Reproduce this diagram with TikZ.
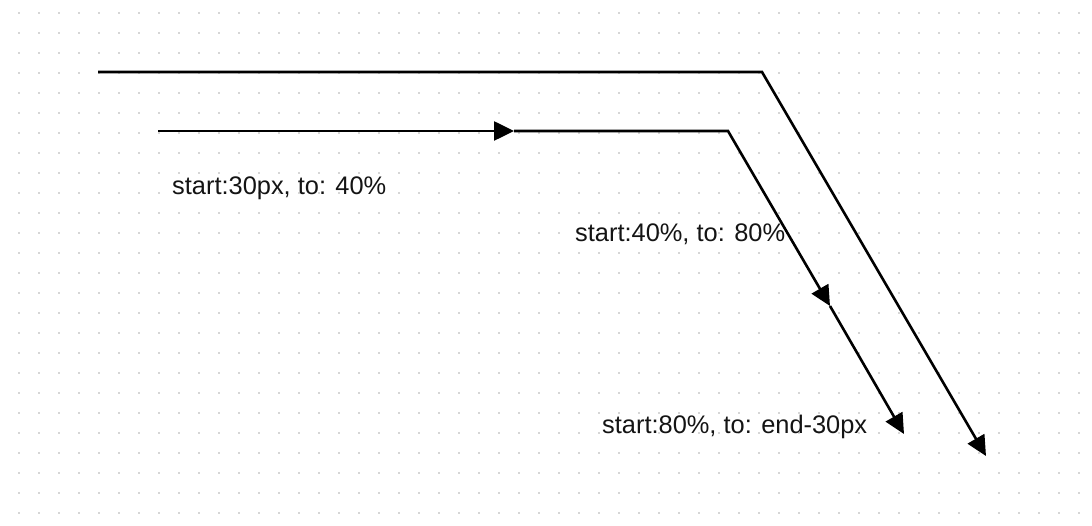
\documentclass[tikz,border=0pt]{standalone}
\usepackage{fontspec}
\setmainfont{Liberation Sans}
\usetikzlibrary{arrows.meta}
\definecolor{griddot}{HTML}{D6D6D6}
\tikzset{
  edgeline/.style={line width=2.6pt, draw=black, line join=miter},
  tipped/.style={edgeline, -{Triangle[length=20pt,width=19pt]}},
  lbl/.style={anchor=base west, inner sep=0pt, font=\fontsize{25.4}{29}\selectfont, text=black!92}
}
\begin{document}
\begin{tikzpicture}[x=1pt,y=-1pt]
\useasboundingbox (0,0) rectangle (1092,526);
\fill[white] (0,0) rectangle (1092,526);
% dotted grid
\foreach \i in {0,...,55}{
  \foreach \j in {0,...,25}{
    \fill[griddot] ({-2+20*\i},{12+20*\j}) rectangle +(2,2);
  }
}
% outer edge
\coordinate (o0) at (98,72);
\coordinate (o1) at (762,72);
\coordinate (o2) at (986,456);
\draw[tipped] (o0) -- (o1) -- (o2);
% inner edge, in segments
\coordinate (i0) at (158,131);
\coordinate (i1) at (514,131);
\coordinate (ic) at (728,131);
\coordinate (i2) at (830,306);
\coordinate (i3) at (904,434);
\draw[tipped] (i0) -- (i1);
\draw[tipped] (i1) -- (ic) -- (i2);
\draw[tipped] (i2) -- (i3);
% labels
\node[lbl] (t1) at (172,195) {start:30px, to: 40\%};
\node[lbl] (t2) at (575,242) {start:40\%, to: 80\%};
\node[lbl] (t3) at (602,433) {start:80\%, to: end-30px};
\end{tikzpicture}
\end{document}
